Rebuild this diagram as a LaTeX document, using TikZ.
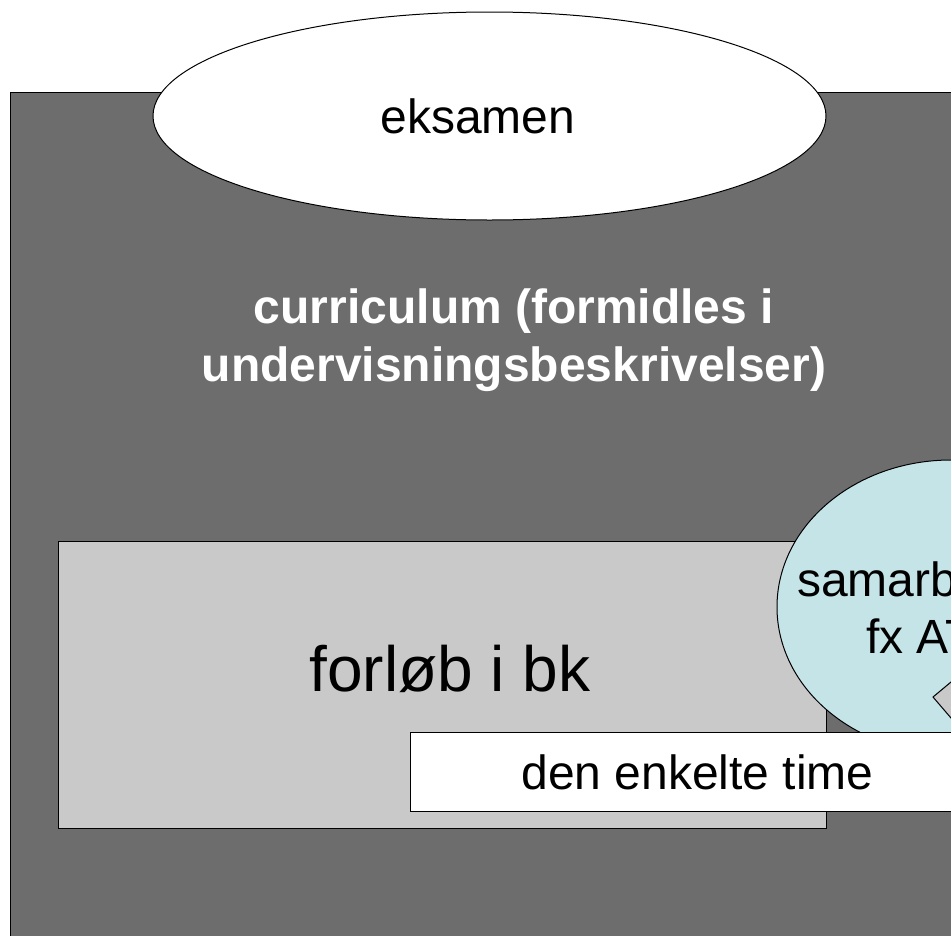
\documentclass[tikz,border=0pt]{standalone}
\usepackage{fontspec}
\setmainfont{Liberation Sans}
\usetikzlibrary{shapes.geometric, positioning}
\definecolor{darkgrey}{HTML}{6D6D6D}
\definecolor{lightgrey}{HTML}{C9C9C9}
\definecolor{paleblue}{HTML}{C5E4E8}

\begin{document}
\begin{tikzpicture}
    [
        x=1pt, y=-1pt,
        outline/.style={draw, line width=1pt},
        bigbox/.style={outline, fill=darkgrey, anchor=north west, inner sep=0pt},
        greybox/.style={outline, fill=lightgrey, anchor=north west, inner sep=0pt},
        whitebox/.style={outline, fill=white, anchor=north west, inner sep=0pt},
        bubble/.style={outline, ellipse, inner sep=0pt}
    ]
    \tikzstyle{txt} = [font=\fontsize{48}{57.6}\selectfont, inner sep=0pt]
    \tikzstyle{bigtxt} = [font=\fontsize{64}{77}\selectfont, inner sep=0pt]

    \useasboundingbox (0,0) rectangle (951,935);
    \clip (0,0) rectangle (951,935);

    % outer frame with the exam on top
    \node[bigbox, minimum width=1000pt, minimum height=900pt] (curr) at (10,92) {};
    \node[bubble, fill=white, minimum width=673pt, minimum height=208pt] (eksamen) at (489.5,116) {};
    \node[txt, anchor=base] (eksamenT) at (478,133) {eksamen};
    \node[txt, font=\fontsize{48}{58}\selectfont\bfseries, text=white, align=center] (currT) at (514,340)
        {curriculum (formidles i\\undervisningsbeskrivelser)};

    % the course and the single lesson
    \node[greybox, minimum width=768pt, minimum height=287pt] (forlob) at (58,541) {};
    \node[bigtxt, anchor=base] (forlobT) at (450,691) {forløb i bk};

    \node[bubble, fill=paleblue, minimum width=348pt, minimum height=294pt] (samarb) at (951,607) {};
    \node[txt, anchor=base west] (samarbA) at (797,596) {samarbejde};
    \node[txt, anchor=base west] (samarbB) at (866,653) {fx AT};
    \draw[outline, fill=lightgrey] (933,697) -- (975,662) -- (1015,700) -- (975,746) -- cycle;

    \node[whitebox, txt, minimum width=574pt, minimum height=79pt] (time) at (410,732) {den enkelte time};

\end{tikzpicture}
\end{document}
